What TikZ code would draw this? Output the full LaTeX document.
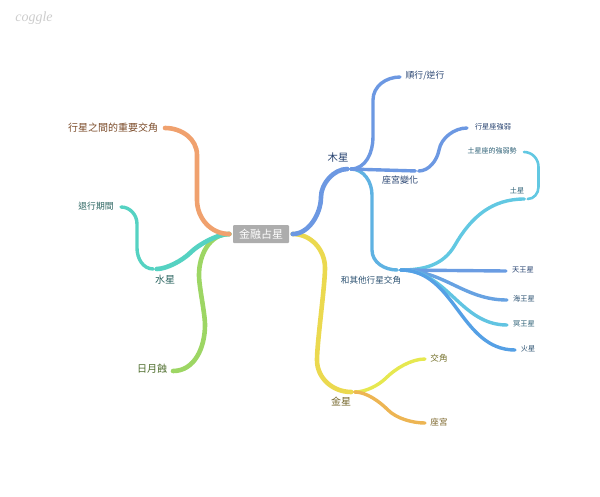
\documentclass[tikz,border=0pt]{standalone}
\usepackage{xcolor}
\usepackage{fontspec}
\setmainfont{Noto Sans CJK TC}
\newfontfamily\logofont{Liberation Serif}
\definecolor{orangeline}{HTML}{F0A16E}
\definecolor{tealline}{HTML}{55D2C2}
\definecolor{greenline}{HTML}{9DD664}
\definecolor{blueline}{HTML}{6C98E2}
\definecolor{skyline}{HTML}{5FB2E2}
\definecolor{cyanline}{HTML}{62C8E2}
\definecolor{yellowline}{HTML}{EBD94F}
\definecolor{limeline}{HTML}{E6E850}
\definecolor{amberline}{HTML}{EDB553}
\begin{document}
\begin{tikzpicture}[x=1pt,y=-1pt]
		\tikzset{
			hub/.style={circle,inner sep=0pt,minimum size=3pt},
			branch/.style={line width=4.6pt,line cap=round},
			twig/.style={line width=3.4pt,line cap=round},
			lbl/.style={inner sep=0pt},
		}
		\useasboundingbox (0,0) rectangle (600,496);
		\node[lbl,text=black!20,font=\logofont\itshape\fontsize{14}{14}\selectfont] (logo) at (34,18) {coggle};

		% hubs
		\node[hub] (rootl) at (231,234) {};
		\node[hub] (rootr) at (291,234) {};
		\node[hub] (jupiter) at (349,169) {};
		\node[hub] (house) at (417,171) {};
		\node[hub] (others) at (399,270) {};
		\node[hub] (saturn) at (526,199) {};
		\node[hub] (venus) at (353,392) {};
		\node[hub] (mercury) at (155,269) {};

		% free ends
		\coordinate (aspect) at (165,128);
		\coordinate (retro) at (121,207);
		\coordinate (eclipse) at (173,371);
		\coordinate (direct) at (400,77);
		\coordinate (strength) at (467,128);
		\coordinate (satstr) at (524,152);
		\coordinate (uranus) at (506,271);
		\coordinate (neptune) at (507,300);
		\coordinate (pluto) at (507,325);
		\coordinate (mars) at (515,350);
		\coordinate (vasp) at (425,359);
		\coordinate (vhouse) at (425,423);

		% left side
		\draw[branch,greenline] (rootl) to[out=180,in=90] (199,275) to[out=-90,in=90,looseness=0.6] (205,325) to[out=-90,in=0] (eclipse);
		\draw[branch,tealline] (rootl) to[out=180,in=45,looseness=0.7] (190,253) to[out=225,in=0,looseness=0.7] (mercury);
		\draw[twig,tealline] (mercury) to[out=180,in=-90] (137,248) -- (137,224) to[out=90,in=0] (retro);
		\draw[branch,orangeline] (rootl) to[out=180,in=-90] (197,200) -- (197,155) to[out=90,in=0] (aspect);

		% right side
		\draw[branch,yellowline] (rootr) to[out=0,in=90] (325,268) to[out=-90,in=90,looseness=0.5] (317,360) to[out=-90,in=180] (venus);
		\draw[twig,limeline] (venus) to[out=0,in=225,looseness=0.8] (386,378) to[out=45,in=180,looseness=0.8] (vasp);
		\draw[twig,amberline] (venus) to[out=0,in=135,looseness=0.8] (388,410) to[out=-45,in=180,looseness=0.8] (vhouse);
		\draw[branch,blueline] (rootr) to[out=0,in=-90,looseness=0.9] (321,197) to[out=90,in=180,looseness=0.9] (jupiter);
		\draw[twig,skyline] (jupiter) to[out=0,in=90] (372,195) -- (372,250) to[out=-90,in=180] (others);
		\draw[twig,blueline] (jupiter) to[out=0,in=-90] (373,137) -- (373,100) to[out=90,in=180] (direct);
		\draw[twig,blueline] (jupiter) -- (house);
		\draw[twig,blueline] (house) to[out=0,in=-100,looseness=0.9] (439,150) to[out=80,in=180,looseness=0.9] (strength);
		\draw[twig,cyanline] (others) to[out=0,in=-120] (455,245) to[out=60,in=180] (saturn);
		\draw[line width=2.6pt,line cap=round,cyanline] (saturn) to[out=0,in=-90] (538.5,187) -- (538.5,167) to[out=90,in=0] (satstr);
		\draw[twig,blueline!85!skyline] (others) -- (uranus);
		\draw[twig,blueline!60!skyline] (others) to[out=0,in=180] (neptune);
		\draw[twig,cyanline!80!skyline] (others) to[out=0,in=180] (pluto);
		\draw[twig,skyline!90!blue] (others) to[out=0,in=180] (mars);

		% labels
		\tikzset{lbl/.append style={font=\fontsize{\lsize}{\lsize}\selectfont}}
		\foreach \name/\x/\y/\lsize/\col/\txt in {
				taspect/113/128/10/7A4A28/行星之間的重要交角,
				tretro/96/206/8.8/2A6460/退行期間,
				tmercury/165/280/10/2A6460/水星,
				teclipse/152/369/10/4A6A28/日月蝕,
				tjupiter/338/158/10.4/24406E/木星,
				tdirect/425/76/8.8/24406E/{順行/逆行},
				thouse/400/180/9/24406E/座宮變化,
				tstrength/493/127/7.2/24406E/行星座強弱,
				tsatstr/492/151/7/2A5E74/土星座的強弱勢,
				tsaturn/517/191/7.2/2A5E74/土星,
				turanus/523/270/7.2/24406E/天王星,
				tneptune/524/299/7.2/2A5070/海王星,
				tpluto/524/324/7.2/2A5E74/冥王星,
				tmars/528/349/7.2/2A5070/火星,
				tothers/371/280/8.6/2A5070/和其他行星交角,
				tvasp/439/358/8.6/74702A/交角,
				tvhouse/439/422/8.6/7A6428/座宮,
				tvenus/341/402/10/74662A/金星}{
				\definecolor{lblcol}{HTML}{\col}
				\node[lbl,text=lblcol] (\name) at (\x,\y) {\txt};
			}
		\node[fill=black!32,text=white,rounded corners=1pt,inner sep=0pt,minimum width=56pt,minimum height=18pt,font=\fontsize{11}{11}\selectfont] (root) at (261,234) {金融占星};
	\end{tikzpicture}
\end{document}
